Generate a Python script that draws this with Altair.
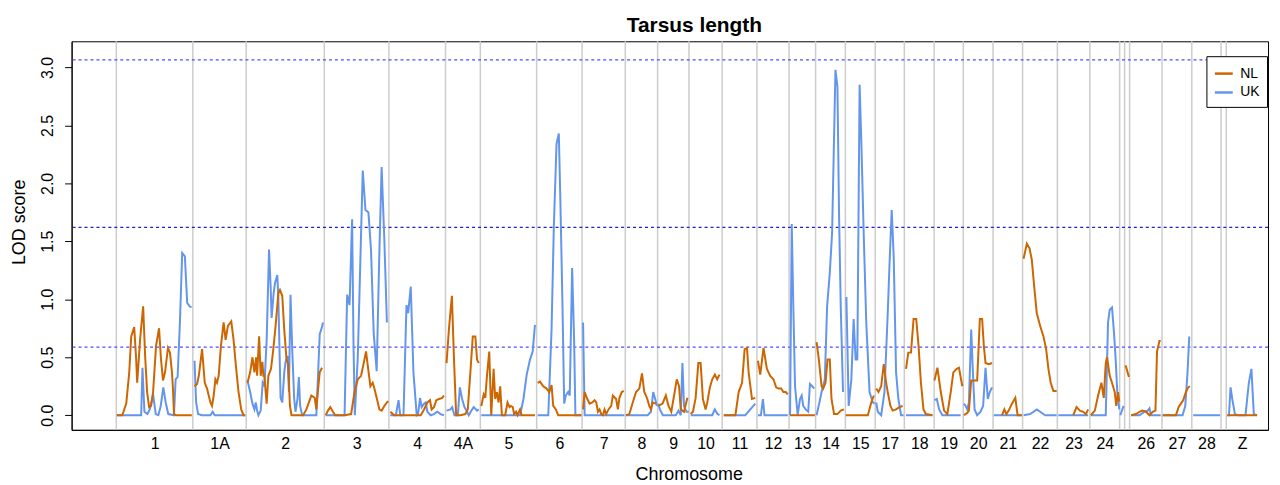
import altair as alt
import pandas as pd

# ---------------- data ----------------
CHROMS = ["1", "1A", "2", "3", "4", "4A", "5", "6", "7", "8", "9", "10", "11", "12",
          "13", "14", "15", "17", "18", "19", "20", "21", "22", "23", "24", "25A",
          "25B", "26", "27", "28", "LGE22", "Z"]
STARTS = [0, 77, 130.7, 209.3, 274.3, 331.3, 366.3, 423, 468.7, 512.2, 544.7, 576.3,
          609.7, 644.7, 677, 703.7, 733.7, 763.7, 793, 823, 852.3, 882.3, 912, 947,
          979.7, 1009.7, 1014.7, 1019.7, 1052.3, 1082.3, 1111.7, 1117]
GENOME_END = 1149
UNLABELLED = ["25A", "25B", "LGE22"]

THRESH_OUTER = [3.065, 0.588]
THRESH_MID = [1.62]
Y_TICKS = [0, 0.5, 1.0, 1.5, 2.0, 2.5, 3.0]

NL = {
    "1": ([0.5, 6, 10, 13, 15, 18, 20, 21, 24, 27, 29, 31, 33, 35, 37, 40, 43, 45, 47, 49, 52, 54, 56, 57, 58, 60, 76],
          [0, 0, 0.1, 0.37, 0.68, 0.76, 0.48, 0.28, 0.66, 0.94, 0.51, 0.2, 0.07, 0.08, 0.2, 0.6, 0.75, 0.48, 0.3, 0.37, 0.58, 0.54, 0.37, 0.23, 0.01, 0, 0]),
    "1A": ([78.7, 81.3, 83, 86.3, 89, 91.3, 94.7, 96.3, 98, 99.7, 101.3, 103, 105.3, 108, 110, 112.3, 115.7, 118, 120.3, 123, 125.7, 128, 129.7],
           [0.25, 0.27, 0.34, 0.57, 0.28, 0.23, 0.11, 0.08, 0.17, 0.31, 0.28, 0.34, 0.6, 0.8, 0.65, 0.77, 0.81, 0.65, 0.43, 0.2, 0.05, 0, 0]),
    "2": ([132, 134.7, 137, 139, 140.7, 141.7, 143.7, 145.3, 147, 148, 149, 150.3, 151.3, 153, 155.7, 158, 160.3, 163, 164.7, 167, 169, 171.3, 173, 174.7, 176.3, 188, 191.3, 196.3, 199.7, 201.3, 203, 204.7, 207],
          [0.28, 0.37, 0.5, 0.37, 0.5, 0.34, 0.68, 0.34, 0.46, 0.34, 0.34, 0.2, 0.1, 0.34, 0.4, 0.57, 0.77, 1.05, 1.08, 1.03, 0.74, 0.48, 0.44, 0.08, 0, 0, 0.05, 0.17, 0.15, 0.05, 0.22, 0.37, 0.41]),
    "3": ([210.7, 213, 215.3, 218, 220.3, 229.7, 236.3, 239.7, 243, 246.3, 249.7, 251.3, 253, 255.7, 258, 259.7, 262.3, 264.7, 267, 269.7, 272.3, 273.8],
          [0, 0.04, 0.07, 0.03, 0, 0, 0.01, 0.2, 0.31, 0.34, 0.48, 0.55, 0.43, 0.25, 0.28, 0.23, 0.14, 0.05, 0.04, 0.08, 0.11, 0.12]),
    "4": ([275.7, 279.7, 306.3, 309.7, 313, 315.7, 317.3, 319.7, 322, 324.7, 328, 329.7],
          [0.03, 0, 0, 0.05, 0.11, 0.13, 0.05, 0.07, 0.13, 0.14, 0.15, 0.17]),
    "4A": ([332.3, 334.7, 337.7, 339.7, 342, 346.3, 351.3, 353.7, 356.3, 358.7, 361.3, 363, 364.7],
           [0.45, 0.74, 1.03, 0.51, 0, 0, 0.01, 0.05, 0.37, 0.68, 0.68, 0.48, 0.45]),
    "5": ([367.3, 369.7, 371.3, 373, 375.3, 377.3, 379.7, 381.3, 383, 384.7, 386.3, 388, 391.3, 393.7, 395.7, 397, 399, 400.3, 402.3, 403.7, 406.3, 408, 421.3],
          [0.08, 0.18, 0.15, 0.34, 0.55, 0, 0.4, 0.14, 0.2, 0.11, 0.25, 0, 0, 0.11, 0.07, 0.08, 0.07, 0.01, 0.03, 0, 0.05, 0, 0]),
    "6": ([424, 426.3, 429.7, 433, 435.7, 438, 439.7, 442.3, 444.7, 468],
          [0.28, 0.29, 0.25, 0.23, 0.2, 0.26, 0.08, 0.05, 0, 0]),
    "7": ([469.7, 471.3, 474, 476.3, 479, 481.3, 483, 484.7, 486.3, 488, 489.7, 491.3, 493, 495.3, 498, 499.7, 503, 504.7, 506.3, 508.7, 510.7],
          [0.05, 0.2, 0.14, 0.1, 0.11, 0.13, 0.11, 0.03, 0.05, 0.01, 0, 0.05, 0.01, 0.05, 0.08, 0.17, 0.14, 0.05, 0.15, 0.2, 0.21]),
    "8": ([513, 516.3, 519.7, 523, 526.3, 529, 531.3, 533, 534.7, 536.3, 538, 539.7, 543],
          [0, 0.01, 0.11, 0.2, 0.23, 0.36, 0.2, 0.17, 0.13, 0.08, 0.05, 0.11, 0.1]),
    "9": ([545.5, 549.7, 553, 555.7, 558.5, 561.3, 564, 566.3, 568, 571.3, 574.7],
          [0.08, 0.1, 0.17, 0.08, 0.03, 0.17, 0.31, 0.25, 0.05, 0.03, 0.15]),
    "10": ([578, 580.3, 583, 585.7, 588, 590.3, 593, 594.7, 597.3, 599.7, 602.3, 604.7, 607],
           [0.01, 0.03, 0.15, 0.45, 0.45, 0.14, 0.05, 0.11, 0.24, 0.31, 0.35, 0.31, 0.35]),
    "11": ([611.3, 623, 626.3, 629.7, 632.3, 634.7, 636.3, 639.7, 643],
           [0, 0, 0.2, 0.28, 0.57, 0.58, 0.37, 0.14, 0.15]),
    "12": ([645.7, 648, 651.3, 654.7, 658, 661.3, 664, 666.3, 669, 671.3, 673.7, 675.7],
           [0.47, 0.35, 0.58, 0.4, 0.34, 0.31, 0.24, 0.23, 0.23, 0.2, 0.2, 0.18]),
    "13": ([678, 703], [0, 0]),
    "14": ([704.7, 707, 709.7, 711.3, 713.7, 715.7, 718, 719.7, 722.3, 725.7, 729, 732.3],
           [0.63, 0.48, 0.25, 0.23, 0.28, 0.48, 0.48, 0.14, 0.01, 0.01, 0.04, 0.05]),
    "15": ([734, 756.3, 759.7, 762.3], [0, 0, 0.11, 0.17]),
    "17": ([764.7, 767, 769.7, 772.3, 774.7, 776.3, 779, 781.3, 784.7, 788, 791.3],
           [0.23, 0.2, 0.25, 0.44, 0.28, 0.2, 0.08, 0.04, 0.05, 0.07, 0.08]),
    "18": ([794.7, 797, 799.7, 802.3, 805, 807.3, 809.7, 812.3, 814.7, 821.3],
           [0.4, 0.54, 0.54, 0.83, 0.83, 0.6, 0.28, 0.05, 0.01, 0]),
    "19": ([823.3, 826.3, 829.7, 833, 836.3, 839.7, 842.3, 845.7, 848, 851.3],
           [0.3, 0.41, 0.2, 0.04, 0.01, 0.2, 0.37, 0.4, 0.41, 0.25]),
    "20": ([853, 856.3, 858, 860.3, 863, 866.3, 869, 871.3, 873, 874.7, 878, 881.3],
           [0, 0.02, 0.04, 0.3, 0.3, 0.3, 0.83, 0.83, 0.6, 0.45, 0.44, 0.45]),
    "21": ([891.3, 893.7, 895.7, 898, 901.3, 904.7, 907, 911.3],
           [0, 0.05, 0.01, 0.04, 0.1, 0.15, 0, 0]),
    "22": ([913, 916.3, 919, 921.3, 923.7, 926.3, 929.7, 933, 935.7, 938, 940.3, 943, 946.3],
           [1.35, 1.48, 1.44, 1.34, 1.11, 0.88, 0.77, 0.68, 0.57, 0.4, 0.28, 0.21, 0.21]),
    "23": ([963, 966.3, 969.7, 973, 975.7, 978], [0, 0.07, 0.04, 0.03, 0.01, 0.05]),
    "24": ([980.7, 984.7, 988, 991.3, 993.7, 995.7, 997, 999.7, 1002, 1004.7, 1006.3, 1008, 1009.3],
           [0, 0.04, 0.17, 0.28, 0.15, 0.45, 0.5, 0.34, 0.28, 0.2, 0.08, 0.2, 0.12]),
    "25B": ([1015.7, 1019], [0.43, 0.33]),
    "26": ([1021.3, 1026.3, 1029.7, 1032.3, 1036.3, 1039.7, 1043, 1045.7, 1047.3, 1049.7, 1051],
           [0, 0.01, 0.03, 0.04, 0.03, 0, 0.03, 0.04, 0.55, 0.64, 0.64]),
    "27": ([1053, 1066.3, 1069, 1071.3, 1073.7, 1076.3, 1078.7, 1080.3],
           [0, 0, 0.07, 0.1, 0.13, 0.2, 0.24, 0.25]),
    "Z": ([1118, 1148], [0, 0]),
}

UK = {
    "1": ([0.5, 25, 26.3, 28.3, 31.3, 33.7, 37, 39.7, 42.3, 44.7, 47.3, 49.7, 52.3, 58, 59.7, 61.7, 64, 66.3, 69, 71.3, 73.7, 75.7],
          [0, 0, 0.41, 0.03, 0.01, 0.05, 0.18, 0.01, 0, 0.08, 0.24, 0.11, 0.01, 0, 0.31, 0.33, 0.8, 1.4, 1.37, 0.97, 0.94, 0.93]),
    "1A": ([78.7, 80.3, 82.3, 86, 94.7, 97, 99, 129.7], [0.47, 0.11, 0.01, 0, 0, 0.03, 0, 0]),
    "2": ([132, 134.7, 137, 139, 140.3, 141.7, 143, 145.3, 147.3, 149, 151.3, 153.7, 155.3, 156.3, 158.3, 159.7, 162, 163, 164, 165.3, 167, 169, 170.3, 172.3, 173.7, 175.3, 177, 179, 180.3, 182.3, 183.7, 185, 187, 201.3, 204.7, 206.3, 208],
          [0.3, 0.2, 0.1, 0.05, 0.11, 0.04, 0, 0.04, 0.28, 0.25, 0.65, 1.43, 1.11, 0.84, 1.05, 1.14, 1.21, 1.03, 0.65, 0.15, 0.11, 0.37, 0.46, 0.51, 0.2, 1.04, 0.57, 0.14, 0.03, 0.14, 0.33, 0.08, 0, 0, 0.7, 0.74, 0.8]),
    "3": ([210.7, 229.7, 232.3, 234.7, 237.3, 238.7, 240, 243, 248, 250.7, 253.7, 256.3, 259, 262, 264.7, 267, 269.7, 272.3],
          [0, 0, 1.04, 0.95, 1.69, 0.6, 0, 0.5, 2.11, 1.77, 1.75, 1.43, 0.71, 0.38, 1.4, 2.14, 1.52, 0.8]),
    "4": ([275.7, 281.3, 284, 285.7, 289, 292, 293.7, 296.3, 299, 302.3, 303.7, 305.7, 307.3, 309.7, 311.3, 313, 316.3, 319.7, 323, 326.3, 329.7],
          [0, 0, 0.13, 0, 0, 0.95, 0.88, 1.11, 0.37, 0, 0.01, 0.15, 0.07, 0.1, 0.11, 0.03, 0, 0.01, 0.03, 0.01, 0]),
    "4A": ([332.3, 336.3, 338, 340.3, 343.7, 345.7, 348, 350.3, 353, 354.7, 357.3, 359.7, 363, 364.7],
           [0.04, 0.05, 0.07, 0, 0, 0.24, 0.14, 0.07, 0.03, 0, 0.04, 0.07, 0.04, 0.05]),
    "5": ([367.3, 406.3, 409.7, 413, 416.3, 419, 421.3], [0, 0, 0.14, 0.35, 0.48, 0.55, 0.78]),
    "6": ([424, 434.7, 438, 440.3, 443, 445.3, 447, 449, 450.7, 452.3, 454.7, 456.3, 458.7, 460.7, 462, 468],
          [0, 0, 0.74, 1.63, 2.34, 2.43, 1.8, 0.94, 0.1, 0.17, 0.2, 0.17, 1.27, 0.65, 0, 0]),
    "7": ([469.7, 471.3, 511.3], [0.8, 0, 0]),
    "8": ([513, 534.7, 538, 540.3, 542.3, 544], [0, 0, 0.03, 0.2, 0.14, 0.08]),
    "9": ([545.5, 547, 550, 563, 565.7, 568, 569.7, 571.3, 573.7, 576],
          [0.1, 0.05, 0, 0, 0.04, 0, 0.45, 0.08, 0.03, 0.03]),
    "10": ([578, 599.7, 602.3, 605, 607], [0, 0, 0.05, 0.01, 0]),
    "11": ([611.3, 633, 638, 643], [0, 0, 0.05, 0.1]),
    "12": ([645.7, 648.7, 650.7, 652.3, 675.7], [0, 0, 0.14, 0, 0]),
    "13": ([678, 679.7, 681.3, 683, 685.7, 688, 689.7, 691.3, 693.7, 696.3, 698, 700.3, 702.3],
           [0, 1.65, 0.94, 0.25, 0, 0.14, 0.17, 0.08, 0.05, 0.03, 0.27, 0.25, 0.23]),
    "14": ([704.7, 707.3, 709.7, 713, 715.3, 718, 720.3, 722, 723.7, 725.7, 727.3, 729, 731.3],
           [0, 0.1, 0.2, 0.31, 0.94, 1.23, 1.57, 2.28, 2.98, 2.83, 1.74, 0.94, 0.2]),
    "15": ([734.7, 737, 739.7, 742, 744, 745.7, 748, 749.7, 752.3, 754.7, 758, 761.3, 763],
           [1.02, 0.08, 0.31, 0.83, 0.48, 0.48, 2.85, 2.37, 1.51, 0.8, 0.2, 0.11, 0.1]),
    "17": ([764.7, 766.3, 769.7, 773, 776.3, 778, 780.3, 782.3, 784.7, 787, 789.7, 792.3],
           [0.11, 0.03, 0, 0.2, 0.88, 1.28, 1.77, 1.37, 0.37, 0.14, 0, 0]),
    "18": ([794.7, 821.3], [0, 0]),
    "19": ([823.3, 825.7, 828, 831.3, 849.7], [0.13, 0.14, 0.05, 0, 0]),
    "20": ([853, 854.7, 856.3, 858, 860.3, 862.3, 863.7, 866.3, 869.7, 872.3, 874.7, 877, 879, 881.3],
           [0.1, 0.08, 0.05, 0.11, 0.74, 0.31, 0.05, 0, 0.03, 0.08, 0.41, 0.14, 0.2, 0.24]),
    "21": ([883, 911.3], [0, 0]),
    "22": ([913, 919.7, 923, 926.3, 929.7, 934.7, 946.3], [0, 0.01, 0.03, 0.05, 0.03, 0, 0]),
    "23": ([948, 978], [0, 0]),
    "24": ([980.7, 995.7, 998, 999.7, 1002, 1004, 1005.7, 1007.3, 1009.3],
           [0, 0, 0.8, 0.91, 0.93, 0.71, 0.48, 0.2, 0.05]),
    "25A": ([1010.3, 1013.7], [0, 0.08]),
    "26": ([1021.3, 1029.7, 1034.7, 1038, 1039.7, 1041.3, 1051], [0, 0, 0.03, 0.04, 0.06, 0, 0]),
    "27": ([1053, 1073, 1075.7, 1078, 1079.7, 1080.7], [0, 0, 0.08, 0.37, 0.67, 0.67]),
    "28": ([1083.7, 1110.7], [0, 0]),
    "Z": ([1118, 1119.7, 1121.3, 1123, 1125.7, 1129, 1136.3, 1139.7, 1142.3, 1144.7, 1148],
          [0, 0, 0.24, 0.14, 0.01, 0, 0, 0.28, 0.4, 0.01, 0]),
}

SERIES = ["NL", "UK"]
COLORS = ["#CD6600", "#6495ED"]
FONT = "Liberation Sans"

# ---------------- tables ----------------
def to_rows(series_name, d):
    rows = []
    for chrom, (pos, lod) in d.items():
        for p, v in zip(pos, lod):
            rows.append({"series": series_name, "chrom": chrom, "pos": p, "lod": v})
    return rows

df_nl = pd.DataFrame(to_rows("NL", NL))
df_uk = pd.DataFrame(to_rows("UK", UK))
df_bounds = pd.DataFrame({"pos": STARTS, "chrom": CHROMS})
df_outer = pd.DataFrame({"lod": THRESH_OUTER})
df_mid = pd.DataFrame({"lod": THRESH_MID})

ends = STARTS[1:] + [GENOME_END]
mids, labels = [], []
for c, s, e in zip(CHROMS, STARTS, ends):
    if c in UNLABELLED:
        continue
    mids.append(round((s + e) / 2, 2))
    labels.append(c)

label_expr = ("[" + ",".join("'" + l + "'" for l in labels) + "][indexof(["
              + ",".join(repr(m) for m in mids) + "], datum.value)]")

x_enc = alt.X(
    "pos:Q",
    scale=alt.Scale(domain=[-45, 1159], nice=False, zero=False),
    axis=alt.Axis(values=mids, labelExpr=label_expr, ticks=False, tickSize=0,
                  labelPadding=6, labelFontSize=16, labelAngle=0, labelOverlap=False,
                  labelFlush=False, grid=False, domainColor="black", labelColor="black",
                  labelFont=FONT, title="Chromosome", titleFont=FONT, titleFontSize=18,
                  titleFontWeight="normal", titleColor="black", titleX=621, titleY=50,
                  titleBaseline="alphabetic", titleAlign="center"),
)
y_enc = alt.Y(
    "lod:Q",
    scale=alt.Scale(domain=[-0.126, 3.2254], nice=False, zero=False),
    axis=alt.Axis(values=Y_TICKS, format=".1f", labelAngle=270, labelAlign="center",
                  labelBaseline="alphabetic", labelPadding=12, tickSize=7, tickColor="black",
                  labelFontSize=16, labelFont=FONT, labelColor="black", labelFlush=False,
                  grid=False, domainColor="black", title="LOD score", titleFont=FONT,
                  titleFontSize=18, titleFontWeight="normal", titleColor="black",
                  titleAngle=270, titleAlign="center", titleBaseline="alphabetic",
                  titleX=-47, titleY=181.7),
)

color_enc = alt.Color(
    "series:N",
    scale=alt.Scale(domain=SERIES, range=COLORS),
    legend=alt.Legend(title=None, orient="none", legendX=1142, legendY=15,
                      symbolType="stroke", symbolSize=324, symbolStrokeWidth=2.5,
                      labelFontSize=14, labelFont=FONT, labelColor="black", padding=7,
                      strokeColor="black", fillColor="white", rowPadding=1, labelOffset=6),
)

bounds = alt.Chart(df_bounds).mark_rule(color="#cccccc", strokeWidth=1.5).encode(x=x_enc)
outer = alt.Chart(df_outer).mark_rule(color="#4d4dff", strokeDash=[3, 3], strokeWidth=1.2).encode(y=y_enc)
mid = alt.Chart(df_mid).mark_rule(color="#2020c0", strokeDash=[3, 3], strokeWidth=1.2).encode(y=y_enc)

uk_line = alt.Chart(df_uk).mark_line(strokeWidth=2).encode(
    x=x_enc, y=y_enc, color=color_enc, detail="chrom:N")
nl_line = alt.Chart(df_nl).mark_line(strokeWidth=2).encode(
    x=x_enc, y=y_enc, color=color_enc, detail="chrom:N")

chart = alt.layer(bounds, outer, mid, uk_line, nl_line).properties(
    width=1204,
    height=391,
    autosize=alt.AutoSizeParams(type="none"),
    padding={"left": 64, "top": 32, "right": 4, "bottom": 54},
    title=alt.TitleParams("Tarsus length", fontSize=21, fontWeight="bold", font=FONT,
                          anchor="middle", dx=24.7, dy=22, offset=10, baseline="alphabetic",
                          color="black"),
).configure_view(stroke="black", strokeWidth=1)

chart.save("out.html", embed_options={"renderer": "svg", "actions": False})
